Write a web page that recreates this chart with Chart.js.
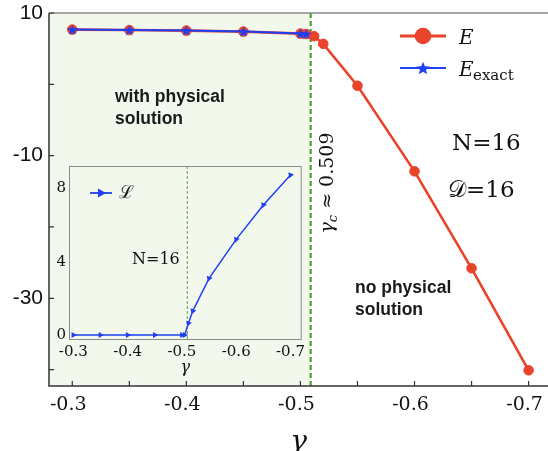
<!DOCTYPE html>
<html><head><meta charset="utf-8">
<script src="https://cdn.jsdelivr.net/npm/chart.js@4"></script>
<style>
html,body{margin:0;padding:0;background:#fff;}
#wrap{position:relative;width:548px;height:451px;overflow:hidden;}
#main{position:absolute;left:0;top:0;}
#inset{position:absolute;left:40px;top:155px;}
</style></head><body>
<div id="wrap">
<canvas id="main" width="548" height="451"></canvas>
<canvas id="inset" width="270" height="225"></canvas>
</div>
<script>
// ---- data ----
const gamma = [-0.3, -0.35, -0.4, -0.45, -0.5, -0.505, -0.512, -0.52, -0.55, -0.6, -0.65, -0.7];
const E = [7.67, 7.61, 7.53, 7.39, 7.11, 7.05, 6.75, 5.67, -0.2, -12.2, -25.8, -40.1];
const gammaExact = [-0.3, -0.35, -0.4, -0.45, -0.5, -0.505];
const Eexact = [7.67, 7.61, 7.53, 7.39, 7.11, 7.05];
const Lvals = [0, 0, 0, 0, 0, 0, 0.64, 1.31, 3.09, 5.22, 7.09, 8.73];
const gammaC = -0.509;
const xTickValues = [-0.3, -0.35, -0.4, -0.45, -0.5, -0.55, -0.6, -0.65, -0.7];
const xLabelValues = [-0.3, -0.4, -0.5, -0.6, -0.7];
const yTickValues = [10, 0, -10, -20, -30, -40];
const yLabelValues = [10, -10, -30];
const insetXTicks = [-0.3, -0.4, -0.5, -0.6, -0.7];
const insetYTicks = [0, 4, 8];

const RED = '#e9432b';
const BLUE = '#1f3ff2';
const GREEN = '#3f9a2c';
const SHADE = '#f3f8ec';
const SERIF = '"DejaVu Serif", serif';

function makeStar(size, color) {
  const c = document.createElement('canvas');
  c.width = c.height = size;
  const g = c.getContext('2d');
  g.fillStyle = color;
  g.beginPath();
  const cx = size / 2, cy = size / 2 + size * 0.05, R = size / 2, r = R * 0.45;
  for (let i = 0; i < 10; i++) {
    const a = -Math.PI / 2 + i * Math.PI / 5;
    const rad = i % 2 ? r : R;
    g.lineTo(cx + rad * Math.cos(a), cy + rad * Math.sin(a));
  }
  g.closePath();
  g.fill();
  return c;
}
const starImg = makeStar(11, BLUE);
const starLegend = makeStar(14, BLUE);

const near = (a, b) => Math.abs(a - b) < 1e-6;
const noPad = s => { s.paddingLeft = 0; s.paddingRight = 0; s.paddingTop = 0; s.paddingBottom = 0; };

const mainBg = {
  id: 'mainBg',
  beforeDatasetsDraw(chart) {
    const {ctx, chartArea: a, scales: {x}} = chart;
    const gx = x.getPixelForValue(gammaC);
    ctx.save();
    ctx.fillStyle = SHADE;
    ctx.fillRect(a.left, a.top, gx - a.left, a.bottom - a.top);
    ctx.strokeStyle = GREEN;
    ctx.lineWidth = 2;
    ctx.setLineDash([5, 3]);
    ctx.beginPath();
    ctx.moveTo(gx, a.top);
    ctx.lineTo(gx, a.bottom);
    ctx.stroke();
    ctx.restore();
  }
};

const mainOverlay = {
  id: 'mainOverlay',
  afterDraw(chart) {
    const {ctx, chartArea: a, scales: {x, y}} = chart;
    ctx.save();
    // top border
    ctx.strokeStyle = '#8a8a8a';
    ctx.lineWidth = 1.5;
    ctx.beginPath();
    ctx.moveTo(a.left, a.top); ctx.lineTo(a.right, a.top);
    ctx.stroke();
    // axes
    ctx.strokeStyle = '#333';
    ctx.lineWidth = 1.5;
    ctx.beginPath();
    ctx.moveTo(a.left, a.top); ctx.lineTo(a.left, a.bottom); ctx.lineTo(a.right, a.bottom);
    ctx.stroke();
    ctx.lineWidth = 1.2;
    ctx.beginPath();
    xTickValues.forEach(v => {
      const px = x.getPixelForValue(v);
      ctx.moveTo(px, a.bottom); ctx.lineTo(px, a.bottom - 5);
    });
    yTickValues.forEach(v => {
      const py = y.getPixelForValue(v);
      ctx.moveTo(a.left, py); ctx.lineTo(a.left + 5, py);
    });
    ctx.stroke();

    // legend
    ctx.strokeStyle = RED; ctx.lineWidth = 3;
    ctx.beginPath(); ctx.moveTo(400, 36); ctx.lineTo(446, 36); ctx.stroke();
    ctx.fillStyle = RED;
    ctx.beginPath(); ctx.arc(423, 36, 8.3, 0, Math.PI * 2); ctx.fill();
    ctx.strokeStyle = BLUE; ctx.lineWidth = 2;
    ctx.beginPath(); ctx.moveTo(400, 68); ctx.lineTo(446, 68); ctx.stroke();
    ctx.drawImage(starLegend, 423 - 7, 68 - 7);
    ctx.fillStyle = '#111';
    ctx.textBaseline = 'alphabetic';
    ctx.textAlign = 'left';
    ctx.font = 'italic 20px ' + SERIF;
    ctx.fillText('E', 459, 44);
    ctx.fillText('E', 459, 76);
    ctx.font = '15px ' + SERIF;
    ctx.fillText('exact', 473, 80);

    // region labels
    ctx.font = 'bold 17.5px "Liberation Sans", Arial, sans-serif';
    ctx.fillStyle = '#1a1a1a';
    ctx.textBaseline = 'middle';
    ctx.fillText('with physical', 115, 97);
    ctx.fillText('solution', 115, 119);
    ctx.fillText('no physical', 355, 288);
    ctx.fillText('solution', 355, 310);

    // N and D
    ctx.fillStyle = '#111';
    ctx.font = '23px ' + SERIF;
    ctx.fillText('N=16', 452, 144);
    ctx.fillText('\u{1D49F}=16', 448, 191);

    // gamma_c rotated label
    ctx.translate(333, 183);
    ctx.rotate(-Math.PI / 2);
    ctx.textBaseline = 'alphabetic';
    const f1 = 'italic 19px ' + SERIF, f2 = 'italic 13px ' + SERIF, f3 = '19px ' + SERIF;
    ctx.font = f1; const w1 = ctx.measureText('\u03B3').width;
    ctx.font = f2; const w2 = ctx.measureText('c').width;
    ctx.font = f3; const w3 = ctx.measureText(' \u2248 0.509').width;
    let sx = -(w1 + w2 + w3) / 2;
    ctx.font = f1; ctx.fillText('\u03B3', sx, 0); sx += w1;
    ctx.font = f2; ctx.fillText('c', sx, 4); sx += w2;
    ctx.font = f3; ctx.fillText(' \u2248 0.509', sx, 0);
    ctx.restore();
  }
};

new Chart(document.getElementById('main'), {
  type: 'line',
  data: {
    datasets: [
      {
        label: 'E_exact',
        data: gammaExact.map((g, i) => ({x: g, y: Eexact[i]})),
        borderColor: BLUE, borderWidth: 2,
        pointStyle: starImg, pointRadius: 5,
        order: 0
      },
      {
        label: 'E',
        data: gamma.map((g, i) => ({x: g, y: E[i]})),
        borderColor: RED, backgroundColor: RED, borderWidth: 2.6,
        pointStyle: 'circle', pointRadius: 4.8, pointBorderWidth: 1,
        pointBackgroundColor: RED, pointBorderColor: RED,
        order: 1
      }
    ]
  },
  options: {
    responsive: false, animation: false, devicePixelRatio: 1,
    layout: {autoPadding: false, padding: {top: 13, right: 0, bottom: 0, left: 0}},
    plugins: {legend: {display: false}, tooltip: {enabled: false}},
    scales: {
      x: {
        type: 'linear', reverse: true, min: -0.717, max: -0.2796,
        afterFit: s => { s.height = 65; noPad(s); },
        afterBuildTicks: s => { s.ticks = xTickValues.map(v => ({value: v})); },
        grid: {display: false, drawTicks: false}, border: {display: false},
        ticks: {
          padding: 8, labelOffset: -4, autoSkip: false, maxRotation: 0,
          font: {family: SERIF, size: 19}, color: '#111',
          callback: v => xLabelValues.some(l => near(l, v)) ? v.toFixed(1) : ''
        },
        title: {display: true, text: '\u03B3', color: '#111', padding: 0,
          font: {family: SERIF, style: 'italic', size: 28, lineHeight: 0.6}}
      },
      y: {
        type: 'linear', min: -42.3, max: 10,
        afterFit: s => { s.width = 49; noPad(s); },
        afterBuildTicks: s => { s.ticks = yTickValues.map(v => ({value: v})); },
        grid: {display: false, drawTicks: false}, border: {display: false},
        ticks: {
          padding: 6, autoSkip: false,
          font: {family: '"Liberation Sans", Arial, sans-serif', size: 21}, color: '#111',
          callback: v => yLabelValues.some(l => near(l, v)) ? String(v) : ''
        }
      }
    }
  },
  plugins: [mainBg, mainOverlay]
});

// ---- inset ----
const insetBg = {
  id: 'insetBg',
  beforeDatasetsDraw(chart) {
    const {ctx, chartArea: a, scales: {x}} = chart;
    ctx.save();
    ctx.fillStyle = SHADE;
    ctx.fillRect(a.left, a.top, a.right - a.left, a.bottom - a.top);
    const gx = x.getPixelForValue(gammaC);
    ctx.strokeStyle = '#5f9e4e';
    ctx.lineWidth = 1;
    ctx.setLineDash([3, 2]);
    ctx.beginPath(); ctx.moveTo(gx + 0.5, a.top); ctx.lineTo(gx + 0.5, a.bottom); ctx.stroke();
    ctx.restore();
  },
  afterDraw(chart) {
    const {ctx, chartArea: a} = chart;
    ctx.save();
    ctx.strokeStyle = '#8c8c8c';
    ctx.lineWidth = 1;
    ctx.strokeRect(a.left + 0.5, a.top + 0.5, a.right - a.left - 1, a.bottom - a.top - 1);
    // legend
    ctx.strokeStyle = BLUE; ctx.lineWidth = 1.8;
    ctx.beginPath(); ctx.moveTo(50, 38); ctx.lineTo(72, 38); ctx.stroke();
    ctx.fillStyle = BLUE;
    ctx.beginPath(); ctx.moveTo(66, 38); ctx.lineTo(58, 33.5); ctx.lineTo(58, 42.5); ctx.closePath(); ctx.fill();
    ctx.fillStyle = '#111';
    ctx.font = '18px ' + SERIF;
    ctx.textBaseline = 'middle';
    ctx.fillText('\u2112', 79, 38);
    ctx.font = '16px ' + SERIF;
    ctx.fillText('N=16', 92, 105);
    ctx.restore();
  }
};

new Chart(document.getElementById('inset'), {
  type: 'line',
  data: {
    datasets: [{
      label: '\u2112',
      data: gamma.map((g, i) => ({x: g, y: Lvals[i]})),
      borderColor: BLUE, backgroundColor: BLUE, borderWidth: 1.5,
      pointStyle: 'triangle', pointRadius: 3.5, pointBorderWidth: 0,
      pointRotation: Lvals.map(v => v === 0 ? 90 : 200)
    }]
  },
  options: {
    responsive: false, animation: false, devicePixelRatio: 1,
    layout: {autoPadding: false, padding: {top: 11, right: 8.3, bottom: 0, left: 0}},
    plugins: {legend: {display: false}, tooltip: {enabled: false}},
    scales: {
      x: {
        type: 'linear', reverse: true, min: -0.7206, max: -0.2921,
        afterFit: s => { s.height = 40; noPad(s); },
        afterBuildTicks: s => { s.ticks = insetXTicks.map(v => ({value: v})); },
        grid: {display: false, drawTicks: false}, border: {display: false},
        ticks: {padding: 3, autoSkip: false, maxRotation: 0, font: {family: SERIF, size: 15}, color: '#111',
          callback: v => v.toFixed(1)},
        title: {display: true, text: '\u03B3', color: '#111', padding: {top: 0, bottom: 2.4},
          font: {family: SERIF, style: 'italic', size: 16, lineHeight: 1.2}}
      },
      y: {
        type: 'linear', min: -0.27, max: 9.22,
        afterFit: s => { s.width = 29; noPad(s); },
        afterBuildTicks: s => { s.ticks = insetYTicks.map(v => ({value: v})); },
        grid: {display: false, drawTicks: false}, border: {display: false},
        ticks: {padding: 3, autoSkip: false, font: {family: SERIF, size: 15}, color: '#111',
          callback: v => String(v)}
      }
    }
  },
  plugins: [insetBg]
});
</script>
</body></html>
